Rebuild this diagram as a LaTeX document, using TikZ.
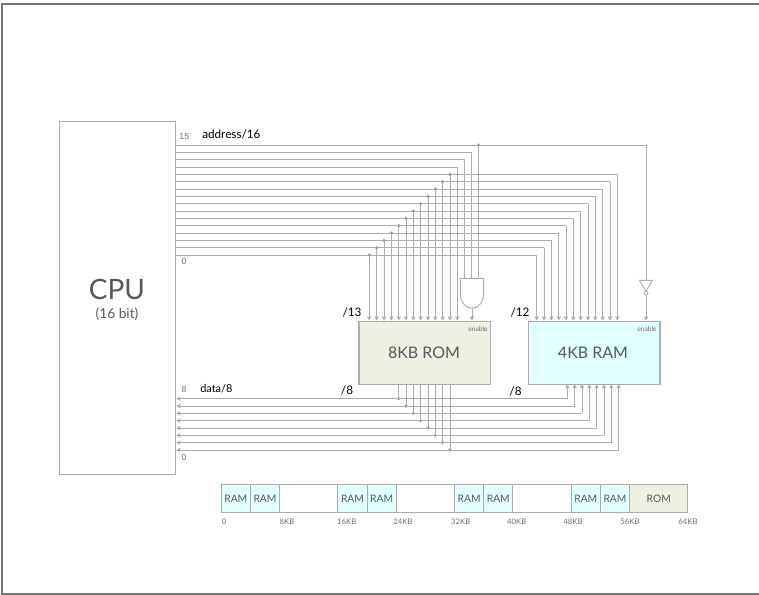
\documentclass[tikz,border=0pt]{standalone}
\usepackage{fontspec}
\setmainfont{Lato}
\newfontfamily\smallnum{Liberation Sans}
\usetikzlibrary{arrows.meta}
\definecolor{wire}{HTML}{ADADAD}
\definecolor{boxedge}{HTML}{ABABAB}
\definecolor{frameedge}{HTML}{777777}
\definecolor{romfill}{HTML}{EEF0E2}
\definecolor{ramfill}{HTML}{E2FFFF}
\definecolor{labelgrey}{HTML}{55595E}
\definecolor{tinygrey}{HTML}{6E6E6E}
\tikzset{
  x=0.75pt,y=-0.75pt,
  wireline/.style={draw=wire,line width=0.72pt},
  wirearrow/.style={wireline,-{Stealth[length=3.2pt,width=3.2pt,inset=0.4pt]}},
  jdot/.style={circle,fill=wire!90!black,draw=none,inner sep=0pt,minimum size=2.7pt},
  block/.style={draw=boxedge,line width=0.9pt,inner sep=0pt,anchor=north west},
  tiny num/.style={font=\smallnum\fontsize{6.5}{7}\selectfont,text=tinygrey,inner sep=0pt},
  buslabel/.style={font=\fontsize{8.8}{10}\selectfont,text=black,inner sep=0pt},
  memcell/.style={draw=boxedge,line width=0.8pt,inner sep=0pt,anchor=north west,minimum height=21pt,minimum width=21.9pt,font=\fontsize{7.7}{9}\selectfont,text=labelgrey},
  memtick/.style={font=\fontsize{5.8}{7}\selectfont,text=tinygrey,inner sep=0pt},
  enablelabel/.style={font=\fontsize{5}{6}\selectfont,text=tinygrey,inner sep=0pt,anchor=east},
}
\begin{document}
\begin{tikzpicture}
\useasboundingbox (0,0) rectangle (759,595);
\draw[frameedge,line width=1.5pt] (759,4) -- (2,4) -- (2,594) -- (759,594);

% blocks
\node[block,minimum width=87pt,minimum height=264.7pt] (cpu) at (59,121) {};
\node[font=\fontsize{21}{24}\selectfont,text=labelgrey,inner sep=0pt] (cpuname) at (117,289) {CPU};
\node[font=\fontsize{10.3}{12}\selectfont,text=labelgrey,inner sep=0pt] (cpubits) at (117,314.5) {(16 bit)};
\node[block,fill=romfill,minimum width=98.8pt,minimum height=47.5pt] (rom) at (358.3,320.7) {};
\node[font=\fontsize{12}{14}\selectfont,text=labelgrey,inner sep=0pt] (romname) at (424,353) {8KB ROM};
\node[enablelabel] (romen) at (488,329) {enable};
\node[block,fill=ramfill,minimum width=98.8pt,minimum height=47.5pt] (ram) at (527.7,320.7) {};
\node[font=\fontsize{12}{14}\selectfont,text=labelgrey,inner sep=0pt] (ramname) at (593,353) {4KB RAM};
\node[enablelabel] (ramen) at (657,329) {enable};

% gates
\coordinate (andT) at (472,278.3);
\draw[wire,line width=0.72pt,fill=white] (460.3,278.3) -- (483.7,278.3) -- (483.7,294)
  .. controls (483.7,302) and (478,308.3) .. (472,308.3)
  .. controls (466,308.3) and (460.3,302) .. (460.3,294) -- cycle;
\coordinate (andB) at (472,308.3);
\draw[wire,line width=0.72pt,fill=white] (639.5,280.3) -- (652.3,280.3) -- (646,291.3) -- cycle;
\node[circle,draw=wire,line width=0.6pt,fill=white,inner sep=0pt,minimum size=3pt] (bubble) at (646,293.2) {};
\coordinate (notT) at (646,280.3);

% address lines to the ROM (0..11 also run to the RAM)
\foreach \i in {0,...,11}{
  \pgfmathsetmacro{\yy}{255-7.3333*\i}
  \pgfmathsetmacro{\xa}{369.33+7.3333*\i}
  \pgfmathsetmacro{\xb}{536.67+7.3333*\i}
  \draw[wireline] (cpu.east |- 0,\yy) -- (\xb,\yy);
  \draw[wirearrow] (\xb,\yy) -- (\xb,320.7);
  \draw[wirearrow] (\xa,\yy) -- (\xa,320.7);
  \node[jdot] at (\xa,\yy) {};
}
% line 12: ROM only
\draw[wireline] (cpu.east |- 0,167) -- (457.33,167);
\draw[wirearrow] (457.33,167) -- (457.33,320.7);
% lines 13, 14, 15 to the AND gate
\draw[wireline] (cpu.east |- 0,159.67) -- (464.67,159.67) -- (464.67,278.3);
\draw[wireline] (cpu.east |- 0,152.33) -- (471.33,152.33) -- (471.33,278.3);
\draw[wireline] (cpu.east |- 0,145) -- (646,145) -- (notT);
\draw[wireline] (478.67,145) -- (478.67,278.3);
\node[jdot] at (478.67,145) {};
\draw[wirearrow] (andB) -- (472,320.7);
\draw[wirearrow] (bubble.south) -- (646,320.7);

% data lines
\foreach \i in {0,...,7}{
  \pgfmathsetmacro{\yy}{398.67+7.3333*\i}
  \pgfmathsetmacro{\xa}{398.67+7.3333*\i}
  \pgfmathsetmacro{\xb}{567.33+7.3333*\i}
  \draw[wireline] (\xa,384) -- (\xa,\yy);
  \node[jdot] at (\xa,\yy) {};
  \draw[wirearrow] (\xb,\yy) -- (cpu.east |- 0,\yy);
  \draw[wirearrow] (\xb,\yy) -- (\xb,384);
}

% bus labels
\node[tiny num] (a15) at (184.3,136.7) {15};
\node[tiny num] (a0) at (184,262) {0};
\node[tiny num] (d8) at (184,390) {8};
\node[tiny num] (d0) at (184,458) {0};
\node[buslabel,anchor=west] (addr) at (202,134.5) {address/16};
\node[buslabel,anchor=west,font=\fontsize{8.2}{10}\selectfont] (data) at (200,389) {data/8};
\node[buslabel] (r13) at (352,312) {/13};
\node[buslabel] (r8) at (347,390.5) {/8};
\node[buslabel] (a12) at (520,312) {/12};
\node[buslabel] (a8) at (515.5,391.5) {/8};

% memory map
\foreach \k/\w/\t/\f in {0/1/RAM/ramfill,1/1/RAM/ramfill,2/2//white,4/1/RAM/ramfill,5/1/RAM/ramfill,6/2//white,8/1/RAM/ramfill,9/1/RAM/ramfill,10/2//white,12/1/RAM/ramfill,13/1/RAM/ramfill,14/2/ROM/romfill}{
  \pgfmathsetmacro{\xx}{220.67+29.167*\k}
  \node[memcell,fill=\f,minimum width=\w*21.875pt] (cell\k) at (\xx,484.3) {\t};
}
\foreach \xx/\t/\n in {224/0/t0,287/8KB/t8,346.7/16KB/t16,403/24KB/t24,460.7/32KB/t32,516.7/40KB/t40,573/48KB/t48,630/56KB/t56,688/64KB/t64}{
  \node[memtick] (\n) at (\xx,521.7) {\t};
}
\end{tikzpicture}
\end{document}
